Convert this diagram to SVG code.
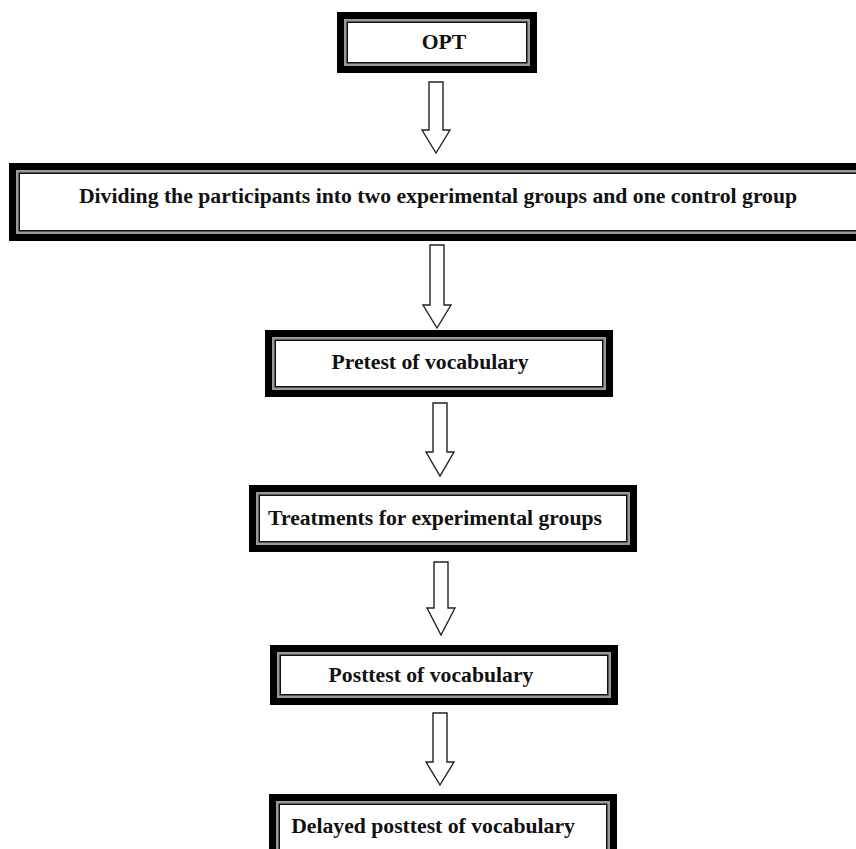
<svg xmlns="http://www.w3.org/2000/svg" width="856" height="849" viewBox="0 0 856 849">
<style>
.o{fill:#000}
.g{fill:#9a9a9a}
.k{fill:#111}
.w{fill:#fff}
.t{font-family:"Liberation Serif","Times New Roman",serif;font-weight:bold;font-size:21.7px;fill:#111;text-anchor:middle}
.a{fill:#fff;stroke:#222;stroke-width:1.4;stroke-linejoin:miter}
</style>
<rect width="856" height="849" fill="#fff"/>
<g id="n1">
<rect class="o" x="337" y="12" width="200" height="61"/>
<rect class="g" x="344" y="19" width="186" height="47"/>
<rect class="k" x="346.5" y="21.5" width="181" height="42"/>
<rect class="w" x="348" y="23" width="178" height="39"/>
<text class="t" x="444" y="49">OPT</text>
</g>
<g id="n2">
<rect class="o" x="9" y="163" width="870" height="78"/>
<rect class="g" x="16" y="170" width="856" height="64"/>
<rect class="k" x="18.5" y="172.5" width="851" height="59"/>
<rect class="w" x="20" y="174" width="848" height="56"/>
<text class="t" x="438" y="203">Dividing the participants into two experimental groups and one control group</text>
</g>
<g id="n3">
<rect class="o" x="265" y="330" width="348" height="67"/>
<rect class="g" x="272" y="337" width="334" height="53"/>
<rect class="k" x="274.5" y="339.5" width="329" height="48"/>
<rect class="w" x="276" y="341" width="326" height="45"/>
<text class="t" x="430" y="369">Pretest of vocabulary</text>
</g>
<g id="n4">
<rect class="o" x="249" y="485" width="388" height="67"/>
<rect class="g" x="256" y="492" width="374" height="53"/>
<rect class="k" x="258.5" y="494.5" width="369" height="48"/>
<rect class="w" x="260" y="496" width="366" height="45"/>
<text class="t" x="435" y="525">Treatments for experimental groups</text>
</g>
<g id="n5">
<rect class="o" x="270" y="645" width="348" height="60"/>
<rect class="g" x="277" y="652" width="334" height="46"/>
<rect class="k" x="279.5" y="654.5" width="329" height="41"/>
<rect class="w" x="281" y="656" width="326" height="38"/>
<text class="t" x="431" y="682">Posttest of vocabulary</text>
</g>
<g id="n6">
<rect class="o" x="269" y="794" width="348" height="70"/>
<rect class="g" x="276" y="801" width="334" height="56"/>
<rect class="k" x="278.5" y="803.5" width="329" height="51"/>
<rect class="w" x="280" y="805" width="326" height="48"/>
<text class="t" x="433" y="833">Delayed posttest of vocabulary</text>
</g>
<g id="connectors">
<polygon class="a" points="429,82 443,82 443,130 450,130 436,153 422,130 429,130"/>
<polygon class="a" points="430,245 444,245 444,305 451,305 437,328 423,305 430,305"/>
<polygon class="a" points="433,403 447,403 447,452 454,452 440,476 426,452 433,452"/>
<polygon class="a" points="434,562 448,562 448,608 455,608 441,635 427,608 434,608"/>
<polygon class="a" points="433,713 447,713 447,762 454,762 440,785 426,762 433,762"/>
</g>
</svg>
